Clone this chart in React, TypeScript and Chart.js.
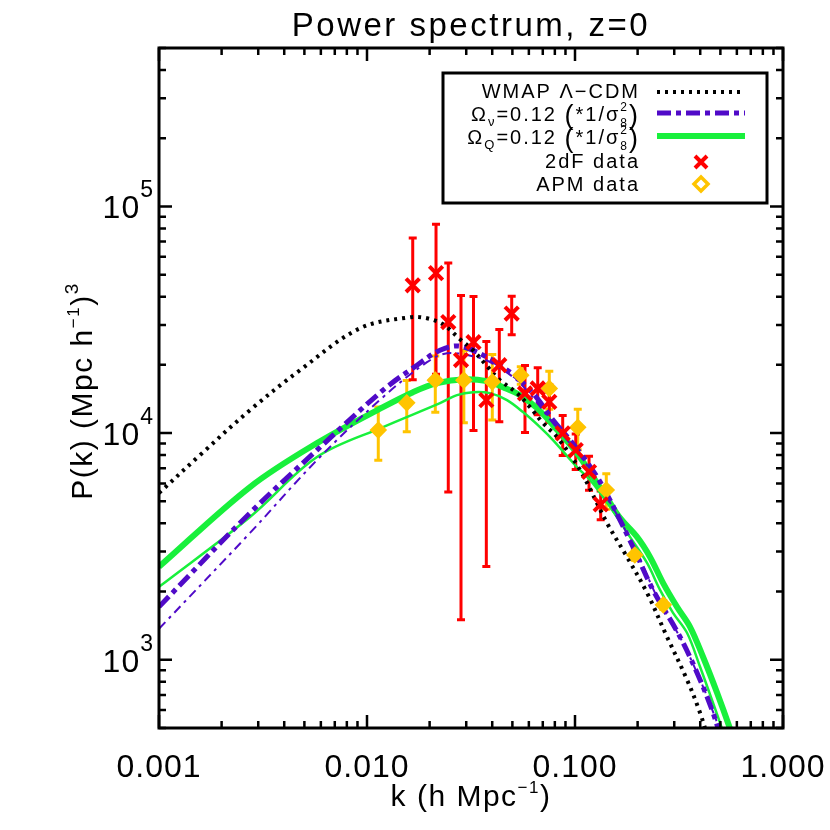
import React, { useEffect, useRef } from "react";
import { Chart, registerables } from "chart.js";
Chart.register(...registerables);

const FONT = "'Liberation Sans', Arial, sans-serif";

// ---- Data ----
const TITLE = "Power spectrum, z=0";

const wmapK = [0.001, 0.001575, 0.002738, 0.004763, 0.009254, 0.01609, 0.01943, 0.02319, 0.028, 0.03232, 0.03776, 0.04359, 0.05262, 0.06075, 0.07018, 0.08196, 0.1057, 0.1425, 0.1778, 0.222, 0.2769, 0.3455, 0.3991, 0.4457];
const wmapP = [5441, 8000, 12630, 18950, 29010, 32440, 32110, 30210, 25950, 23210, 19740, 17120, 15010, 13020, 11070, 9604, 6871, 4013, 2842, 1973, 1263, 817, 584, 422];

const nuThickK = [0.001, 0.002738, 0.005749, 0.01194, 0.01739, 0.02244, 0.028, 0.03776, 0.04506, 0.05439, 0.06567, 0.07839, 0.09462, 0.1142, 0.1364, 0.1901, 0.2371, 0.3197, 0.3991, 0.4608, 0.4978];
const nuThickP = [1714, 4442, 8416, 15470, 19930, 23210, 24170, 21620, 19530, 17120, 14270, 11410, 9316, 7451, 5781, 3147, 2034, 1263, 817, 584, 467];

const nuThinK = [0.001, 0.002738, 0.005749, 0.01194, 0.01943, 0.02424, 0.03232, 0.03903, 0.05439, 0.07839, 0.1142, 0.1425, 0.1987, 0.2479, 0.3304, 0.4124, 0.4764, 0.5033];
const nuThinP = [1370, 3627, 7605, 14410, 20550, 22510, 21840, 20550, 16610, 11070, 7228, 5225, 2961, 1894, 1188, 761, 544, 467];

const qThickK = [0.001, 0.002738, 0.005749, 0.01194, 0.01664, 0.02171, 0.0296, 0.03776, 0.04506, 0.05439, 0.06567, 0.07839, 0.1022, 0.1221, 0.1425, 0.1646, 0.1987, 0.2294, 0.2649, 0.3093, 0.3572, 0.4124, 0.4817, 0.5561, 0.5876];
const qThickP = [2571, 5781, 9035, 13020, 15160, 16610, 17290, 16950, 15940, 14710, 12890, 10840, 8164, 6401, 5173, 4224, 3483, 2842, 2184, 1712, 1398, 1031, 716, 497, 422];

const qThinK = [0.001, 0.002738, 0.005749, 0.01194, 0.02244, 0.02708, 0.03232, 0.03903, 0.0471, 0.05623, 0.06788, 0.07839, 0.1022, 0.118, 0.1364, 0.1592, 0.1838, 0.222, 0.2563, 0.296, 0.3455, 0.3991, 0.4608, 0.5089, 0.538];
const qThinP = [2097, 4266, 7840, 10630, 13560, 14710, 15160, 15010, 13980, 12380, 10630, 9316, 7083, 6208, 5225, 4266, 3483, 2675, 2034, 1611, 1315, 932, 646, 497, 422];

const df2K = [0.01659, 0.02147, 0.02459, 0.02831, 0.03251, 0.03747, 0.04326, 0.04962, 0.05749, 0.06618, 0.07523, 0.08727, 0.1008, 0.1168, 0.1329];
const df2P = [44900, 50800, 30900, 21000, 25170, 13980, 19930, 33680, 14960, 15740, 13730, 9970, 8410, 6750, 4850];
const df2Err = [27700, 32600, 25400, 19500, 14900, 11400, 8700, 6500, 4900, 3700, 2600, 2000, 1500, 1150, 700];

const apmK = [0.01133, 0.01553, 0.0213, 0.02921, 0.04003, 0.05487, 0.07523, 0.1031, 0.1414, 0.1939, 0.2658];
const apmP = [10310, 13600, 17120, 17120, 16830, 18010, 15740, 10600, 5610, 2900, 1747];
const apmErr = [2730, 3450, 4770, 6000, 5400, 1600, 3000, 2150, 1000, 150, 80];

const xTickValues = [0.001, 0.01, 0.1, 1];
const xTickLabels = ["0.001", "0.010", "0.100", "1.000"];
const yTickValues = [1e3, 1e4, 1e5];
const yTickExps = ["3", "4", "5"];

const legendWmap = "WMAP Λ−CDM";
const legendNu = ["Ω", "ν", "=0.12 ", "(", "*1/σ", "8", "2", ")"];
const legendQ = ["Ω", "Q", "=0.12 ", "(", "*1/σ", "8", "2", ")"];
const legend2dF = "2dF data";
const legendAPM = "APM data";

// ---- Styles ----
const BLACK = "#000000";
const PURPLE = "rgb(80,10,200)";
const GREEN = "rgb(24,240,60)";
const RED = "#ff0000";
const YELLOW = "#ffc400";

const pts = (k: number[], p: number[]) => k.map((x, i) => ({ x, y: p[i] }));

type Seg = { t: string; s: number; dy?: number; na?: boolean };

function drawSegs(ctx: CanvasRenderingContext2D, segs: Seg[], x: number, y: number, align: string, ls: string) {
  (ctx as any).letterSpacing = ls;
  const ws = segs.map((g) => {
    ctx.font = `${g.s}px ${FONT}`;
    return g.na ? 0 : ctx.measureText(g.t).width;
  });
  const total = ws.reduce((a, b) => a + b, 0);
  let cx = align === "left" ? x : align === "center" ? x - total / 2 : x - total;
  ctx.textAlign = "left";
  ctx.textBaseline = "alphabetic";
  segs.forEach((g, i) => {
    ctx.font = `${g.s}px ${FONT}`;
    ctx.fillText(g.t, cx, y + (g.dy || 0));
    cx += ws[i];
  });
  (ctx as any).letterSpacing = "0px";
}

function omegaSegs(p: string[]): Seg[] {
  return [
    { t: p[0], s: 20 },
    { t: p[1], s: 13, dy: 5 },
    { t: p[2], s: 20 },
    { t: p[3], s: 27, dy: 3 },
    { t: p[4], s: 20 },
    { t: p[5], s: 12, dy: 6, na: true },
    { t: p[6], s: 12, dy: -10 },
    { t: p[7], s: 27, dy: 3 },
  ];
}

const errorBarPlugin = {
  id: "errorBars",
  beforeDatasetsDraw(chart: any) {
    const ctx: CanvasRenderingContext2D = chart.ctx;
    const xs = chart.scales.x;
    const ys = chart.scales.y;
    const a = chart.chartArea;
    ctx.save();
    ctx.beginPath();
    ctx.rect(a.left, a.top, a.right - a.left, a.bottom - a.top);
    ctx.clip();
    const draw = (K: number[], P: number[], E: number[], color: string) => {
      ctx.strokeStyle = color;
      ctx.lineWidth = 3;
      ctx.setLineDash([]);
      K.forEach((k, i) => {
        const x = xs.getPixelForValue(k);
        const y1 = ys.getPixelForValue(P[i] + E[i]);
        const y2 = ys.getPixelForValue(Math.max(P[i] - E[i], 1));
        ctx.beginPath();
        ctx.moveTo(x, y1);
        ctx.lineTo(x, y2);
        ctx.moveTo(x - 4, y1);
        ctx.lineTo(x + 4, y1);
        ctx.moveTo(x - 4, y2);
        ctx.lineTo(x + 4, y2);
        ctx.stroke();
      });
    };
    draw(apmK, apmP, apmErr, YELLOW);
    draw(df2K, df2P, df2Err, RED);
    ctx.restore();
  },
};

const framePlugin = {
  id: "frame",
  afterDraw(chart: any) {
    const ctx: CanvasRenderingContext2D = chart.ctx;
    const xs = chart.scales.x;
    const ys = chart.scales.y;
    const { left, right, top, bottom } = chart.chartArea;
    ctx.save();
    ctx.setLineDash([]);
    ctx.strokeStyle = BLACK;
    ctx.fillStyle = BLACK;
    // ticks
    ctx.lineWidth = 2.5;
    ctx.beginPath();
    for (let d = -3; d <= 0; d++) {
      for (let m = 1; m <= 9; m++) {
        const v = m * Math.pow(10, d);
        if (v < xs.min - 1e-12 || v > xs.max + 1e-12) continue;
        const px = xs.getPixelForValue(v);
        const len = m === 1 ? 13 : 7;
        ctx.moveTo(px, bottom);
        ctx.lineTo(px, bottom - len);
        ctx.moveTo(px, top);
        ctx.lineTo(px, top + len);
      }
    }
    for (let d = 2; d <= 5; d++) {
      for (let m = 1; m <= 9; m++) {
        const v = m * Math.pow(10, d);
        if (v < ys.min - 1e-9 || v > ys.max + 1e-9) continue;
        const py = ys.getPixelForValue(v);
        const len = m === 1 ? 13 : 7;
        ctx.moveTo(left, py);
        ctx.lineTo(left + len, py);
        ctx.moveTo(right, py);
        ctx.lineTo(right - len, py);
      }
    }
    ctx.stroke();
    ctx.lineWidth = 3;
    ctx.strokeRect(left, top, right - left, bottom - top);

    // tick labels
    xTickValues.forEach((v, i) => {
      drawSegs(ctx, [{ t: xTickLabels[i], s: 32 }], xs.getPixelForValue(v), 777, "center", "1px");
    });
    yTickValues.forEach((v, i) => {
      const py = ys.getPixelForValue(v);
      drawSegs(ctx, [{ t: "10", s: 32 }, { t: yTickExps[i], s: 23, dy: -21 }], 154, py + 12, "right", "1px");
    });

    // title and axis titles
    drawSegs(ctx, [{ t: TITLE, s: 33 }], 471, 36, "center", "2.5px");
    drawSegs(ctx, [{ t: "k (h Mpc", s: 30 }, { t: "−1", s: 17, dy: -13 }, { t: ")", s: 30 }], 471, 806, "center", "1.5px");
    ctx.save();
    ctx.translate(92, 391);
    ctx.rotate(-Math.PI / 2);
    drawSegs(ctx, [{ t: "P(k) (Mpc h", s: 30 }, { t: "−1", s: 17, dy: -13 }, { t: ")", s: 30 }, { t: "3", s: 19, dy: -14 }], 0, 0, "center", "1.5px");
    ctx.restore();

    // legend
    const bx = 443, by = 73, bw = 324, bh = 130;
    ctx.fillStyle = "#ffffff";
    ctx.fillRect(bx, by, bw, bh);
    ctx.lineWidth = 3;
    ctx.strokeStyle = BLACK;
    ctx.strokeRect(bx, by, bw, bh);
    ctx.fillStyle = BLACK;
    const tx = 640;
    const rows = [98, 121, 144, 168, 191];
    drawSegs(ctx, [{ t: legendWmap, s: 20 }], tx, rows[0], "right", "2px");
    drawSegs(ctx, omegaSegs(legendNu), tx, rows[1], "right", "2px");
    drawSegs(ctx, omegaSegs(legendQ), tx, rows[2], "right", "2px");
    drawSegs(ctx, [{ t: legend2dF, s: 20 }], tx, rows[3], "right", "2px");
    drawSegs(ctx, [{ t: legendAPM, s: 20 }], tx, rows[4], "right", "2px");

    const ds = chart.data.datasets;
    const sample = (d: any, y: number) => {
      ctx.beginPath();
      ctx.setLineDash(d.borderDash || []);
      ctx.lineWidth = d.borderWidth;
      ctx.strokeStyle = d.borderColor;
      ctx.moveTo(657, y);
      ctx.lineTo(745, y);
      ctx.stroke();
    };
    sample(ds[2], 92);
    sample(ds[3], 113);
    sample(ds[5], 136);
    ctx.setLineDash([]);
    // 2dF marker
    ctx.strokeStyle = RED;
    ctx.lineWidth = 4;
    ctx.beginPath();
    ctx.moveTo(695, 156);
    ctx.lineTo(707, 168);
    ctx.moveTo(707, 156);
    ctx.lineTo(695, 168);
    ctx.stroke();
    // APM marker
    ctx.strokeStyle = YELLOW;
    ctx.lineWidth = 3.5;
    ctx.beginPath();
    ctx.moveTo(701, 177);
    ctx.lineTo(708, 184);
    ctx.lineTo(701, 191);
    ctx.lineTo(694, 184);
    ctx.closePath();
    ctx.stroke();
    ctx.restore();
  },
};

export default function App() {
  const ref = useRef<HTMLCanvasElement>(null);
  useEffect(() => {
    document.body.style.margin = "0";
    const line = (data: any, color: string, width: number, dash: number[], order: number) => ({
      type: "line",
      data,
      borderColor: color,
      backgroundColor: color,
      borderWidth: width,
      borderDash: dash,
      pointRadius: 0,
      fill: false,
      showLine: true,
      tension: 0.35,
      order,
    });
    const chart = new Chart(ref.current!, {
      type: "scatter",
      data: {
        datasets: [
          {
            label: legend2dF,
            data: pts(df2K, df2P),
            pointStyle: "crossRot",
            pointRadius: 9.5,
            borderWidth: 4,
            borderColor: RED,
            backgroundColor: RED,
            showLine: false,
            order: 0,
          } as any,
          {
            label: legendAPM,
            data: pts(apmK, apmP),
            pointStyle: "rectRot",
            pointRadius: 6,
            borderWidth: 4,
            borderColor: YELLOW,
            backgroundColor: YELLOW,
            showLine: false,
            order: 0,
          } as any,
          { label: legendWmap, ...line(pts(wmapK, wmapP), BLACK, 4, [3, 5], 1) } as any,
          { label: "nu thick", ...line(pts(nuThickK, nuThickP), PURPLE, 5, [14, 5, 5, 5], 2) } as any,
          { label: "nu thin", ...line(pts(nuThinK, nuThinP), PURPLE, 2, [9, 5, 3, 5], 2) } as any,
          { label: "Q thick", ...line(pts(qThickK, qThickP), GREEN, 6, [], 3) } as any,
          { label: "Q thin", ...line(pts(qThinK, qThinP), GREEN, 2.5, [], 3) } as any,
        ],
      },
      options: {
        responsive: false,
        animation: false,
        events: [],
        layout: { padding: { left: 159, top: 48, right: 47, bottom: 102 } },
        scales: {
          x: { type: "logarithmic", min: 0.001, max: 1, display: false },
          y: { type: "logarithmic", min: 500, max: 500000, display: false },
        },
        plugins: {
          legend: { display: false },
          title: { display: false },
          tooltip: { enabled: false },
        },
      },
      plugins: [errorBarPlugin, framePlugin],
    } as any);
    return () => chart.destroy();
  }, []);
  return (
    <div style={{ width: 830, height: 830, position: "relative", background: "#fff" }}>
      <canvas ref={ref} width={830} height={830} style={{ width: 830, height: 830, display: "block" }} />
    </div>
  );
}
